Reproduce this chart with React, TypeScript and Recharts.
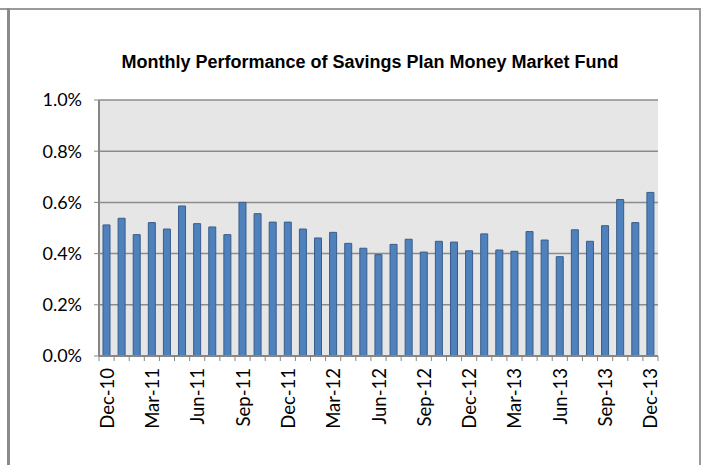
import React from 'react';
import { BarChart, Bar, XAxis, YAxis, CartesianGrid } from 'recharts';

// ─── Data ─────────────────────────────────────────────────────────────────────

const months = [
  'Dec-10', 'Jan-11', 'Feb-11', 'Mar-11', 'Apr-11', 'May-11', 'Jun-11', 'Jul-11', 'Aug-11',
  'Sep-11', 'Oct-11', 'Nov-11', 'Dec-11', 'Jan-12', 'Feb-12', 'Mar-12', 'Apr-12', 'May-12',
  'Jun-12', 'Jul-12', 'Aug-12', 'Sep-12', 'Oct-12', 'Nov-12', 'Dec-12', 'Jan-13', 'Feb-13',
  'Mar-13', 'Apr-13', 'May-13', 'Jun-13', 'Jul-13', 'Aug-13', 'Sep-13', 'Oct-13', 'Nov-13',
  'Dec-13',
];

// monthly return, in percent
const returns = [
  0.512, 0.538, 0.474, 0.521, 0.496, 0.586, 0.517, 0.504, 0.474,
  0.600, 0.556, 0.523, 0.523, 0.496, 0.461, 0.483, 0.440, 0.421,
  0.396, 0.436, 0.456, 0.406, 0.448, 0.445, 0.411, 0.477, 0.414,
  0.409, 0.486, 0.453, 0.388, 0.493, 0.448, 0.509, 0.611, 0.521,
  0.639,
];

const yTicks = [0, 0.2, 0.4, 0.6, 0.8, 1.0];

const chartData = months.map((m, i) => ({ month: m, value: returns[i] }));

// ─── Layout ───────────────────────────────────────────────────────────────────

const W = 702;
const H = 465;
const MARGIN = { top: 100, right: 44, left: 0, bottom: 0 };
const Y_AXIS_W = 99;
const BAND = (W - MARGIN.left - MARGIN.right - Y_AXIS_W) / months.length;
const FONT = 'Lato, sans-serif';

function MonthTick({ x, y, payload, index }: any) {
  const left = x - BAND / 2;
  return (
    <g>
      <line x1={left} x2={left} y1={y} y2={y + 5} stroke="#868686" strokeWidth={1} />
      {index === months.length - 1 && (
        <line x1={x + BAND / 2} x2={x + BAND / 2} y1={y} y2={y + 5} stroke="#868686" strokeWidth={1} />
      )}
      {index % 3 === 0 && (
        <text
          x={x}
          y={y + 12}
          transform={`rotate(-90, ${x}, ${y + 12})`}
          textAnchor="end"
          dominantBaseline="central"
          fontSize={18.5}
          fontFamily={FONT}
          fill="#000"
        >
          {payload.value}
        </text>
      )}
    </g>
  );
}

export default function App() {
  return (
    <div style={{ position: 'absolute', left: 0, top: 0, width: W, height: H, background: '#fff' }}>
      {/* frame */}
      <div style={{ position: 'absolute', left: 0, top: 8, width: 701, height: 2, background: '#9a9a9a' }} />
      <div style={{ position: 'absolute', left: 7, top: 8, width: 3, height: H - 8, background: '#8a8a8a' }} />
      <div style={{ position: 'absolute', left: 699, top: 8, width: 2, height: H - 8, background: '#9a9a9a' }} />

      <div
        style={{
          position: 'absolute', left: 0, top: 51, width: 740, textAlign: 'center',
          fontFamily: '"Liberation Sans", Arial, sans-serif', fontWeight: 'bold', fontSize: 18,
          lineHeight: '22px', color: '#000',
        }}
      >
        Monthly Performance of Savings Plan Money Market Fund
      </div>

      <div style={{ position: 'absolute', left: 0, top: 0 }}>
        <BarChart width={W} height={H} data={chartData} margin={MARGIN} barCategoryGap={0}>
          <CartesianGrid
            vertical={false}
            stroke="#8c8c8c"
            strokeWidth={1.5}
            fill="#e6e6e6"
            fillOpacity={1}
          />
          <XAxis
            dataKey="month"
            interval={0}
            height={109}
            tickSize={0}
            tickMargin={0}
            tickLine={false}
            axisLine={{ stroke: '#868686', strokeWidth: 2 }}
            tick={<MonthTick />}
          />
          <YAxis
            domain={[0, 1]}
            ticks={yTicks}
            width={Y_AXIS_W}
            tickSize={5}
            tickMargin={12}
            tickFormatter={(v: number) => `${v.toFixed(1)}%`}
            axisLine={{ stroke: '#868686', strokeWidth: 2 }}
            tickLine={{ stroke: '#868686' }}
            tick={{ fontSize: 18, fontFamily: FONT, fill: '#000' }}
          />
          <Bar
            dataKey="value"
            fill="#4f81bd"
            stroke="#385d8a"
            strokeWidth={1}
            barSize={7}
            isAnimationActive={false}
          />
        </BarChart>
      </div>
    </div>
  );
}
